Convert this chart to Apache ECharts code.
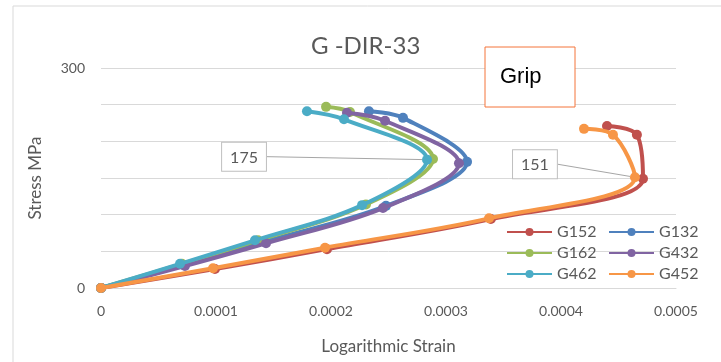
<!DOCTYPE html>
<html><head><meta charset="utf-8">
<script src="https://cdn.jsdelivr.net/npm/echarts@6/dist/echarts.min.js"></script>
<style>html,body{margin:0;padding:0;background:#fff}#c{width:721px;height:362px}</style>
</head><body><div id="c"></div>
<script>
var seriesNames = ['G152','G132','G162','G432','G462','G452'];
var seriesColors = ['#C0504D','#4F81BD','#9BBB59','#8064A2','#4BACC6','#F79646'];
var G152_x = [0, 0.0000991, 0.0001965, 0.000339, 0.0004713, 0.000466, 0.00044];
var G152_y = [0, 26, 53, 94, 149, 209, 221];
var G132_x = [0, 0.0000722, 0.0001417, 0.0002478, 0.0003183, 0.0002626, 0.000233];
var G132_y = [0, 31, 63, 112, 172, 232, 241];
var G162_x = [0, 0.0000704, 0.0001365, 0.0002304, 0.0002887, 0.0002165, 0.0001957];
var G162_y = [0, 33, 65, 114, 176, 240, 247];
var G432_x = [0, 0.000073, 0.0001435, 0.0002452, 0.0003113, 0.000247, 0.0002139];
var G432_y = [0, 30, 61, 109, 170, 228, 239];
var G462_x = [0, 0.0000687, 0.0001339, 0.000227, 0.0002835, 0.0002113, 0.0001791];
var G462_y = [0, 33, 65, 113, 175, 230, 241];
var G452_x = [0, 0.0000974, 0.0001948, 0.0003374, 0.0004643, 0.0004452, 0.00042];
var G452_y = [0, 27, 55, 95, 151, 209, 217];
var xTicks = [0, 0.0001, 0.0002, 0.0003, 0.0004, 0.0005];
var yTickLabels = [0, 300];
var legendLeftCol = ['G152','G162','G462'];
var legendRightCol = ['G132','G432','G452'];
var labelled = {G462: 4, G452: 4};
var labelShift = {G462: [-183, 21], G452: [-100, 11]};

var xs = [G152_x, G132_x, G162_x, G432_x, G462_x, G452_x];
var ys = [G152_y, G132_y, G162_y, G432_y, G462_y, G452_y];
var FONT = 'Lato';
var series = seriesNames.map(function(n, i){
  var data = xs[i].map(function(x, j){
    var d = {value: [x, ys[i][j]]};
    if (labelled[n] === j) {
      d.label = {show: true};
    }
    return d;
  });
  var s = {
    name: n, type: 'line', data: data, smooth: 0.35,
    symbol: 'circle', symbolSize: 10, showSymbol: true,
    lineStyle: {width: 4, color: seriesColors[i]},
    itemStyle: {color: seriesColors[i]},
    label: {show: false, formatter: function(p){return p.value[1];},
      backgroundColor: '#fff', borderColor: '#bfbfbf', borderWidth: 1,
      padding: [7, 8, 5, 8], color: '#595959', fontSize: 16, fontFamily: FONT},
    labelLine: {show: true, lineStyle: {color: '#a6a6a6', width: 1}},
    emphasis: {disabled: true},
    z: 2 + i
  };
  if (labelShift[n]) {
    var sh = labelShift[n];
    s.labelLayout = function(){ return {dx: sh[0], dy: sh[1]}; };
  }
  return s;
});

var legendCommon = {
  orient: 'vertical', top: 218, itemGap: 3,
  itemWidth: 45, itemHeight: 10,
  textStyle: {fontFamily: FONT, fontSize: 16, lineHeight: 18, color: '#595959'}
};

var chart = echarts.init(document.getElementById('c'));
chart.setOption({
  animation: false,
  backgroundColor: '#fff',
  title: {text: 'G -DIR-33', left: 306, top: 29,
    textStyle: {fontFamily: FONT, fontWeight: 'normal', fontSize: 24, color: '#595959'}},
  grid: {left: 101, right: 45, top: 68, bottom: 74},
  legend: [
    Object.assign({left: 501, data: legendLeftCol}, legendCommon),
    Object.assign({left: 603, data: legendRightCol}, legendCommon)
  ],
  xAxis: {
    type: 'value', min: 0, max: 0.0005, interval: 0.0001,
    name: 'Logarithmic Strain', nameLocation: 'middle', nameGap: 50,
    nameTextStyle: {fontFamily: FONT, fontSize: 17, color: '#595959'},
    axisLine: {show: true, lineStyle: {color: '#d9d9d9'}},
    axisTick: {show: false},
    splitLine: {show: false},
    axisLabel: {fontFamily: FONT, fontSize: 14, color: '#595959', margin: 16,
      formatter: function(v){
        for (var k = 0; k < xTicks.length; k++) {
          if (Math.abs(v - xTicks[k]) < 1e-9) return xTicks[k] === 0 ? '0' : xTicks[k].toFixed(4);
        }
        return '';
      }}
  },
  yAxis: {
    type: 'value', min: 0, max: 300, interval: 50,
    name: 'Stress MPa', nameLocation: 'middle', nameGap: 57,
    nameTextStyle: {fontFamily: FONT, fontSize: 17, color: '#595959'},
    axisLine: {show: false}, axisTick: {show: false},
    splitLine: {lineStyle: {color: '#d9d9d9', width: 1}},
    axisLabel: {fontFamily: FONT, fontSize: 14, color: '#595959', margin: 16,
      formatter: function(v){ return yTickLabels.indexOf(v) >= 0 ? String(v) : ''; }}
  },
  graphic: [
    {type: 'rect', shape: {x: 13, y: 6, width: 720, height: 370}, z: -10,
     style: {fill: 'none', stroke: '#d9d9d9', lineWidth: 1}},
    {type: 'rect', shape: {x: 485, y: 47, width: 90, height: 60}, z: 100,
     style: {fill: '#fff', stroke: '#F4743B', lineWidth: 1}},
    {type: 'text', x: 500, y: 66, z: 101,
     style: {text: 'Grip', fontFamily: 'Liberation Sans', fontSize: 22, fill: '#000'}}
  ],
  series: series
});
</script></body></html>
